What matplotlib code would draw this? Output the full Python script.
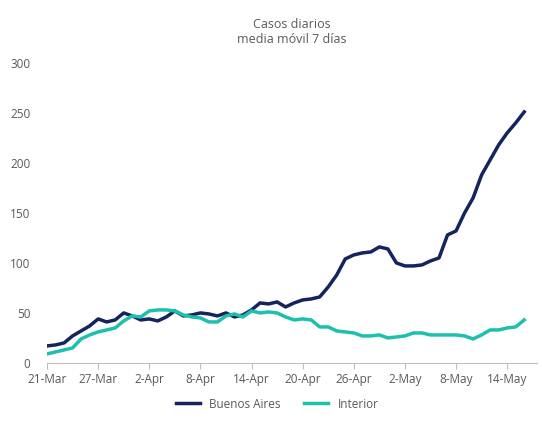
import matplotlib
matplotlib.use("Agg")
import matplotlib.pyplot as plt
import numpy as np

plt.rcParams['font.family'] = ['Open Sans', 'DejaVu Sans']

buenos_aires = [17,18,20,27,32,37,44,41,43,50,47,43,44,42,46,52,47,48,50,49,47,50,46,48,
                53,60,59,61,56,60,63,64,66,76,88,104,108,110,111,116,114,100,97,97,98,102,
                105,128,132,150,165,188,203,218,230,240,251]
interior = [9,11,13,15,24,28,31,33,35,42,47,46,52,53,53,52,48,46,45,41,41,47,49,46,
            52,50,51,50,46,43,44,43,36,36,32,31,30,27,27,28,25,26,27,30,30,28,28,28,
            28,27,24,28,33,33,35,36,43]
tick_labels = ['21-Mar','27-Mar','2-Apr','8-Apr','14-Apr','20-Apr','26-Apr','2-May','8-May','14-May']

x = np.arange(len(buenos_aires))
fig, ax = plt.subplots(figsize=(5.42, 4.28), dpi=100)
fig.subplots_adjust(left=47/542, right=537/542, top=0.853, bottom=0.152)
ax.plot(x, buenos_aires, color='#14245c', lw=2.5, label='Buenos Aires')
ax.plot(x, interior, color='#1dbfad', lw=2.5, label='Interior')
ax.set_ylim(0, 300)
ax.set_yticks(range(0, 301, 50))
ax.set_xlim(0, 57.5)
ax.set_xticks(range(0, 55, 6))
ax.set_xticklabels(tick_labels)
for s in ['top', 'right', 'left']:
    ax.spines[s].set_visible(False)
ax.spines['bottom'].set_color('#bfbfbf')
ax.tick_params(axis='both', labelsize=8.5, colors='#595959', length=0)
ax.tick_params(axis='y', pad=12)
ax.tick_params(axis='x', length=4, color='#bfbfbf')
ax.set_title('Casos diarios\nmedia móvil 7 días', fontsize=9, color='#595959', pad=14)
ax.legend(loc='upper center', bbox_to_anchor=(0.47, -0.08), ncol=2, frameon=False,
          fontsize=8.5, labelcolor='#595959')
fig.savefig('out.png')
